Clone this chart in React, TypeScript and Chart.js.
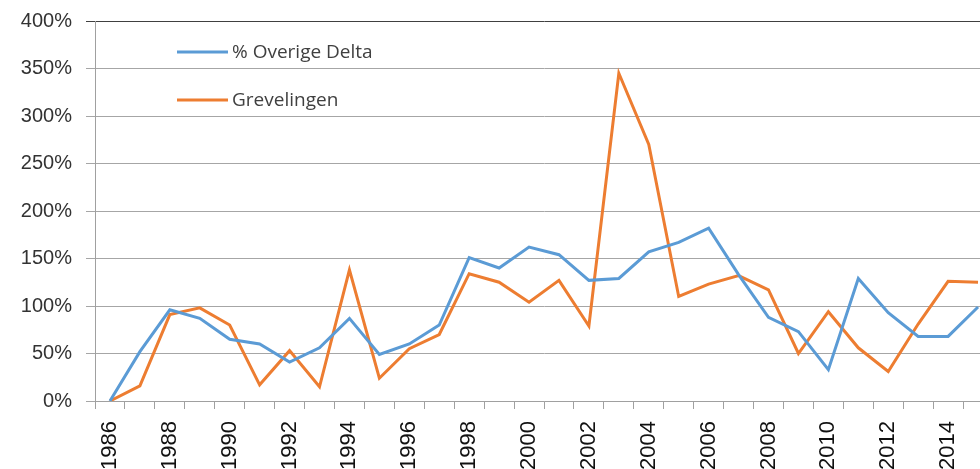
import React, { useEffect, useRef } from 'react';
import { Chart, registerables } from 'chart.js';

Chart.register(...registerables);

const years = [
  '1986', '1987', '1988', '1989', '1990', '1991', '1992', '1993', '1994', '1995',
  '1996', '1997', '1998', '1999', '2000', '2001', '2002', '2003', '2004', '2005',
  '2006', '2007', '2008', '2009', '2010', '2011', '2012', '2013', '2014', '2015',
];

const overigeDelta = [
  0, 52, 96, 87, 65, 60, 41, 56, 87, 49,
  60, 80, 151, 140, 162, 154, 127, 129, 157, 167,
  182, 133, 88, 73, 33, 129, 93, 68, 68, 99,
];

const grevelingen = [
  0, 16, 91, 98, 80, 17, 53, 15, 138, 24,
  55, 70, 134, 125, 104, 127, 79, 345, 270, 110,
  123, 132, 117, 50, 94, 56, 31, 81, 126, 125,
];

const seriesLabels = ['% Overige Delta', 'Grevelingen'];
const seriesColors = ['#5B9BD5', '#ED7D31'];

const yMin = 0;
const yMax = 400;
const yStep = 50;

const insideLegend = {
  id: 'insideLegend',
  afterDatasetsDraw(chart: any) {
    const { ctx, chartArea } = chart;
    ctx.save();
    chart.data.datasets.forEach((ds: any, i: number) => {
      const x = chartArea.left + 82;
      const y = chartArea.top + 31 + i * 48;
      ctx.strokeStyle = ds.borderColor;
      ctx.lineWidth = 3;
      ctx.beginPath();
      ctx.moveTo(x, y);
      ctx.lineTo(x + 51, y);
      ctx.stroke();
      ctx.fillStyle = '#404040';
      ctx.font = '19px "Open Sans", sans-serif';
      ctx.textBaseline = 'middle';
      ctx.textAlign = 'left';
      ctx.fillText(ds.label, x + 55, y + 1);
    });
    ctx.restore();
  },
};

export default function App() {
  const ref = useRef<HTMLCanvasElement | null>(null);

  useEffect(() => {
    if (!ref.current) return;
    const chart = new Chart(ref.current, {
      type: 'line',
      data: {
        labels: years,
        datasets: [
          {
            label: seriesLabels[0],
            data: overigeDelta,
            borderColor: seriesColors[0],
            backgroundColor: seriesColors[0],
            borderWidth: 3,
            pointRadius: 0,
            tension: 0,
          },
          {
            label: seriesLabels[1],
            data: grevelingen,
            borderColor: seriesColors[1],
            backgroundColor: seriesColors[1],
            borderWidth: 3,
            pointRadius: 0,
            tension: 0,
          },
        ],
      },
      options: {
        animation: false,
        responsive: false,
        devicePixelRatio: 1,
        layout: { padding: { left: 0, top: 21, right: 7, bottom: 0 } },
        plugins: {
          legend: { display: false },
          tooltip: { enabled: false },
          title: { display: false },
        },
        scales: {
          x: {
            type: 'category',
            offset: true,
            afterFit: (scale: any) => {
              scale.height = 68;
              scale.paddingLeft = 0;
              scale.paddingRight = 0;
            },
            grid: {
              offset: true,
              drawOnChartArea: false,
              drawTicks: true,
              tickLength: 8,
              color: '#a0a0a0',
            },
            border: { color: '#a0a0a0', width: 1 },
            ticks: {
              autoSkip: false,
              minRotation: 90,
              maxRotation: 90,
              padding: 12,
              color: '#111',
              font: { family: '"Liberation Sans", Arial, sans-serif', size: 22 },
              callback: function (this: any, _v: any, i: number) {
                const lbl = years[i];
                return Number(lbl) % 2 === 0 ? lbl : '';
              },
            },
          },
          y: {
            min: yMin,
            max: yMax,
            afterFit: (scale: any) => {
              scale.width = 95;
              scale.paddingTop = 0;
              scale.paddingBottom = 0;
            },
            grid: {
              tickLength: 9,
              lineWidth: 1,
              color: (c: any) => (c.tick && c.tick.value === yMax ? '#404040' : '#a6a6a6'),
            },
            border: { color: '#a0a0a0', width: 1 },
            ticks: {
              stepSize: yStep,
              padding: 14,
              color: '#333',
              font: { family: '"Liberation Sans", Arial, sans-serif', size: 20 },
              callback: (v: any) => v + '%',
            },
          },
        },
      },
      plugins: [insideLegend],
    });
    return () => chart.destroy();
  }, []);

  return (
    <div
      style={{
        position: 'fixed',
        left: 0,
        top: 0,
        width: 980,
        height: 469,
        overflow: 'hidden',
        background: '#fff',
      }}
    >
      <canvas ref={ref} width={1000} height={469} style={{ width: 1000, height: 469, display: 'block' }} />
    </div>
  );
}
